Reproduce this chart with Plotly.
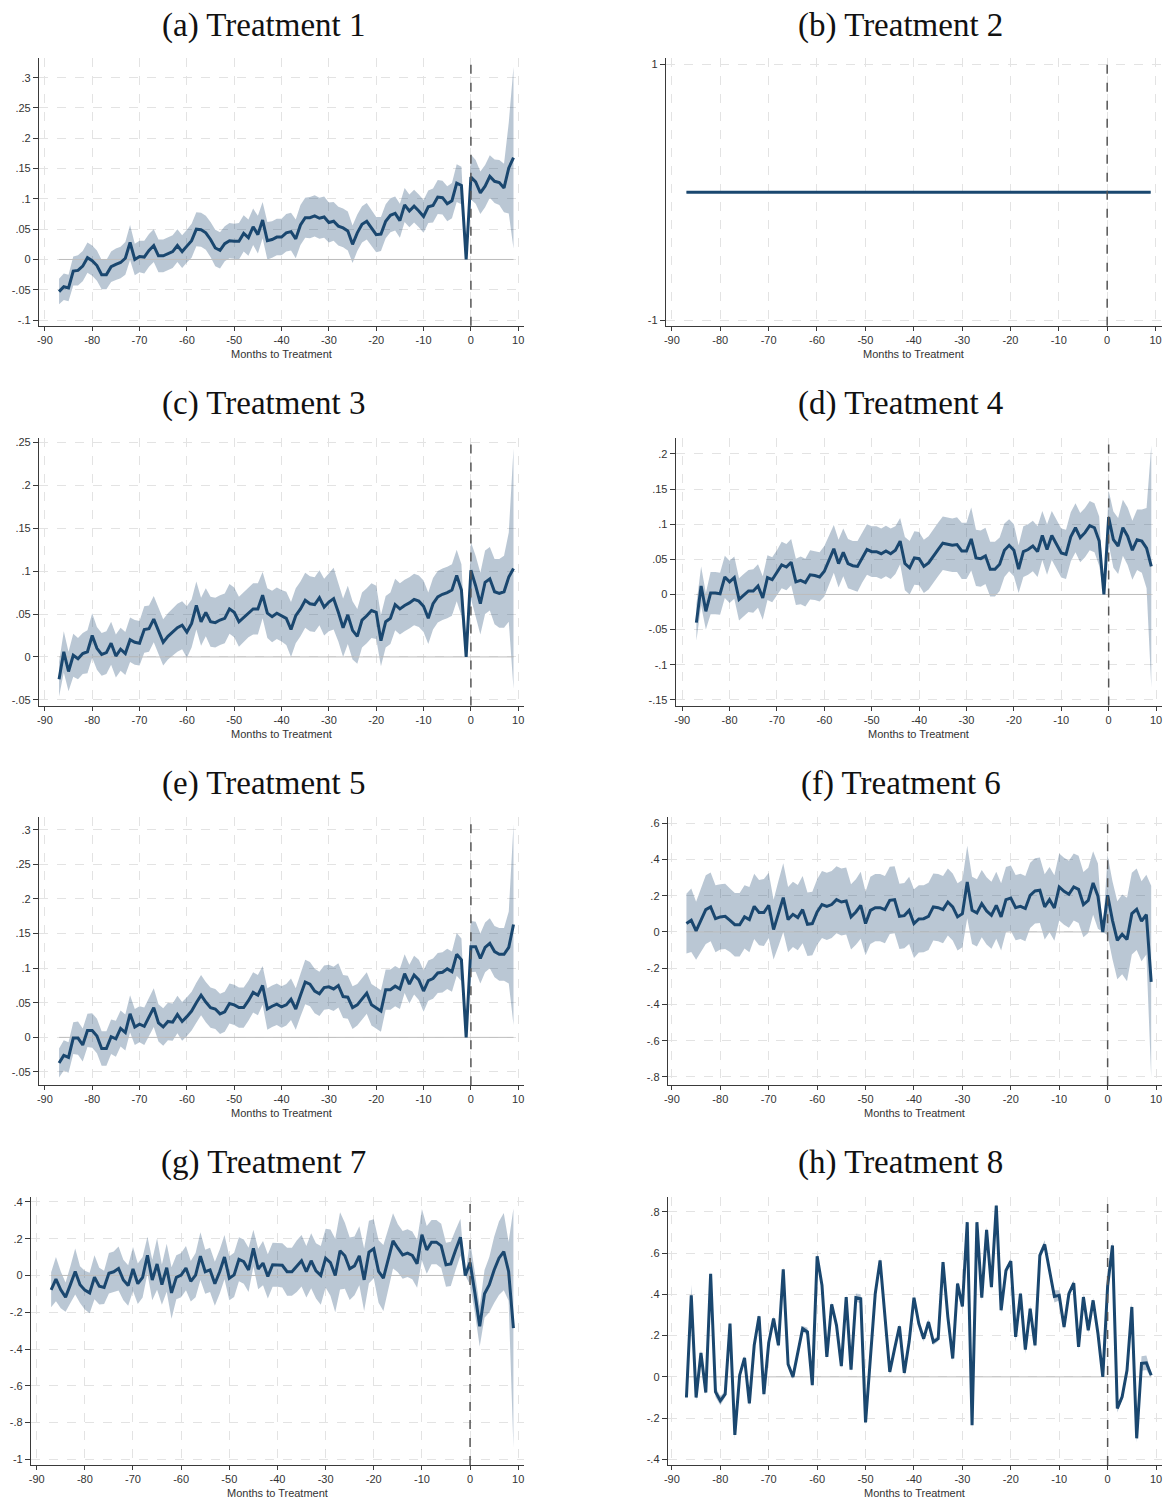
import plotly.graph_objects as go

W, H = 1169, 1500

MONTHS = list(range(-87, 10))
X_TICKS = [-90, -80, -70, -60, -50, -40, -30, -20, -10, 0, 10]
X_LABELS = ["-90", "-80", "-70", "-60", "-50", "-40", "-30", "-20", "-10", "0", "10"]

TITLES = ["(a) Treatment 1", "(b) Treatment 2", "(c) Treatment 3", "(d) Treatment 4",
          "(e) Treatment 5", "(f) Treatment 6", "(g) Treatment 7", "(h) Treatment 8"]
X_TITLE = "Months to Treatment"

# ---- Treatment 1 ----
A_COEF = [-0.053, -0.045, -0.047, -0.019, -0.018, -0.011, 0.003, -0.002, -0.010, -0.025,
          -0.025, -0.012, -0.008, -0.005, 0.002, 0.028, 0.000, 0.005, 0.004, 0.015,
          0.023, 0.006, 0.006, 0.009, 0.013, 0.023, 0.013, 0.022, 0.031, 0.050,
          0.049, 0.044, 0.033, 0.019, 0.015, 0.026, 0.031, 0.030, 0.030, 0.043,
          0.036, 0.054, 0.041, 0.065, 0.031, 0.033, 0.037, 0.037, 0.044, 0.046,
          0.034, 0.057, 0.069, 0.069, 0.072, 0.068, 0.070, 0.061, 0.063, 0.055,
          0.052, 0.047, 0.025, 0.044, 0.058, 0.063, 0.052, 0.041, 0.042, 0.063,
          0.073, 0.076, 0.064, 0.090, 0.080, 0.088, 0.080, 0.071, 0.087, 0.089,
          0.103, 0.102, 0.092, 0.097, 0.126, 0.122, 0.000, 0.136, 0.128, 0.110,
          0.121, 0.137, 0.129, 0.127, 0.118, 0.151, 0.168]
A_CI = [0.021, 0.022, 0.022, 0.024, 0.025, 0.025, 0.025, 0.025, 0.025, 0.024,
        0.024, 0.025, 0.026, 0.026, 0.027, 0.029, 0.026, 0.026, 0.027, 0.027,
        0.027, 0.027, 0.027, 0.027, 0.027, 0.027, 0.027, 0.027, 0.028, 0.028,
        0.028, 0.028, 0.029, 0.030, 0.030, 0.029, 0.029, 0.029, 0.030, 0.030,
        0.030, 0.030, 0.031, 0.030, 0.031, 0.030, 0.030, 0.030, 0.031, 0.031,
        0.032, 0.033, 0.033, 0.034, 0.034, 0.034, 0.034, 0.033, 0.032, 0.032,
        0.032, 0.032, 0.031, 0.030, 0.030, 0.030, 0.029, 0.029, 0.028, 0.028,
        0.028, 0.028, 0.028, 0.028, 0.027, 0.027, 0.027, 0.027, 0.027, 0.028,
        0.028, 0.028, 0.029, 0.029, 0.031, 0.031, 0.000, 0.037, 0.036, 0.035,
        0.035, 0.035, 0.036, 0.037, 0.040, 0.075, 0.150]

# ---- Treatment 2 ----
B_COEF = [0.0] * 97
B_CI = [0.0] * 97

# ---- Treatment 3 ----
C_COEF = [-0.026, 0.006, -0.017, 0.002, -0.002, 0.004, 0.006, 0.025, 0.010, 0.003,
          0.005, 0.016, 0.001, 0.009, 0.004, 0.020, 0.017, 0.016, 0.032, 0.033,
          0.044, 0.030, 0.017, 0.024, 0.029, 0.034, 0.037, 0.029, 0.039, 0.060,
          0.041, 0.052, 0.041, 0.040, 0.043, 0.045, 0.056, 0.052, 0.041, 0.046,
          0.052, 0.056, 0.056, 0.072, 0.051, 0.047, 0.051, 0.048, 0.045, 0.032,
          0.048, 0.056, 0.066, 0.062, 0.061, 0.069, 0.058, 0.064, 0.068, 0.052,
          0.034, 0.049, 0.031, 0.024, 0.043, 0.048, 0.054, 0.052, 0.019, 0.041,
          0.045, 0.061, 0.056, 0.060, 0.063, 0.067, 0.065, 0.059, 0.045, 0.062,
          0.070, 0.073, 0.075, 0.078, 0.095, 0.078, 0.000, 0.101, 0.083, 0.062,
          0.087, 0.091, 0.076, 0.074, 0.076, 0.093, 0.103]
C_CI = [0.020, 0.024, 0.023, 0.025, 0.024, 0.024, 0.025, 0.026, 0.025, 0.025,
        0.025, 0.025, 0.025, 0.025, 0.025, 0.026, 0.026, 0.026, 0.027, 0.027,
        0.027, 0.027, 0.027, 0.027, 0.027, 0.028, 0.028, 0.030, 0.028, 0.028,
        0.028, 0.028, 0.029, 0.029, 0.029, 0.029, 0.029, 0.029, 0.029, 0.029,
        0.029, 0.030, 0.030, 0.027, 0.029, 0.030, 0.030, 0.030, 0.031, 0.032,
        0.032, 0.032, 0.032, 0.032, 0.032, 0.032, 0.033, 0.034, 0.036, 0.034,
        0.034, 0.034, 0.034, 0.032, 0.032, 0.032, 0.032, 0.031, 0.030, 0.030,
        0.030, 0.030, 0.030, 0.030, 0.030, 0.030, 0.030, 0.030, 0.030, 0.030,
        0.030, 0.030, 0.030, 0.030, 0.030, 0.030, 0.000, 0.033, 0.035, 0.036,
        0.037, 0.037, 0.038, 0.040, 0.042, 0.052, 0.140]

# ---- Treatment 4 ----
D_COEF = [-0.040, 0.012, -0.024, 0.002, 0.002, 0.001, 0.025, 0.018, 0.024, -0.007,
          -0.001, 0.005, 0.005, 0.012, -0.005, 0.024, 0.021, 0.031, 0.042, 0.039,
          0.046, 0.018, 0.020, 0.017, 0.028, 0.027, 0.025, 0.033, 0.050, 0.065,
          0.044, 0.060, 0.044, 0.041, 0.040, 0.053, 0.064, 0.061, 0.061, 0.058,
          0.062, 0.058, 0.063, 0.076, 0.044, 0.038, 0.052, 0.051, 0.040, 0.045,
          0.055, 0.064, 0.073, 0.071, 0.070, 0.071, 0.062, 0.062, 0.079, 0.052,
          0.051, 0.055, 0.036, 0.036, 0.043, 0.063, 0.070, 0.063, 0.036, 0.061,
          0.064, 0.069, 0.061, 0.084, 0.064, 0.084, 0.072, 0.059, 0.057, 0.082,
          0.095, 0.081, 0.088, 0.098, 0.095, 0.076, 0.000, 0.110, 0.078, 0.069,
          0.095, 0.083, 0.063, 0.078, 0.076, 0.066, 0.040]
D_CI = [0.026, 0.028, 0.026, 0.030, 0.030, 0.030, 0.030, 0.030, 0.030, 0.030,
        0.030, 0.030, 0.031, 0.031, 0.031, 0.032, 0.032, 0.032, 0.033, 0.033,
        0.033, 0.033, 0.034, 0.034, 0.035, 0.035, 0.035, 0.036, 0.035, 0.034,
        0.034, 0.034, 0.035, 0.035, 0.036, 0.036, 0.036, 0.036, 0.036, 0.036,
        0.036, 0.036, 0.034, 0.033, 0.038, 0.038, 0.038, 0.038, 0.038, 0.038,
        0.038, 0.038, 0.038, 0.038, 0.038, 0.039, 0.040, 0.040, 0.045, 0.040,
        0.040, 0.040, 0.039, 0.039, 0.038, 0.038, 0.037, 0.037, 0.034, 0.036,
        0.036, 0.036, 0.036, 0.035, 0.036, 0.035, 0.035, 0.035, 0.035, 0.035,
        0.035, 0.035, 0.035, 0.035, 0.035, 0.035, 0.000, 0.038, 0.040, 0.040,
        0.040, 0.041, 0.042, 0.043, 0.045, 0.057, 0.172]

# ---- Treatment 5 ----
E_COEF = [-0.037, -0.026, -0.029, -0.001, -0.001, -0.011, 0.010, 0.010, 0.002, -0.016,
          -0.016, 0.001, -0.002, 0.013, 0.007, 0.034, 0.015, 0.019, 0.016, 0.029,
          0.043, 0.021, 0.015, 0.023, 0.022, 0.033, 0.023, 0.030, 0.038, 0.050,
          0.061, 0.051, 0.043, 0.041, 0.034, 0.037, 0.049, 0.047, 0.043, 0.043,
          0.053, 0.065, 0.061, 0.075, 0.041, 0.045, 0.048, 0.044, 0.047, 0.055,
          0.041, 0.061, 0.080, 0.077, 0.067, 0.063, 0.072, 0.073, 0.070, 0.075,
          0.059, 0.058, 0.043, 0.047, 0.056, 0.064, 0.047, 0.043, 0.038, 0.069,
          0.069, 0.074, 0.070, 0.092, 0.077, 0.090, 0.083, 0.067, 0.082, 0.085,
          0.093, 0.094, 0.099, 0.095, 0.120, 0.112, 0.000, 0.131, 0.131, 0.114,
          0.130, 0.136, 0.124, 0.120, 0.120, 0.130, 0.163]
E_CI = [0.021, 0.022, 0.022, 0.023, 0.024, 0.024, 0.024, 0.025, 0.025, 0.025,
        0.025, 0.025, 0.026, 0.026, 0.026, 0.027, 0.026, 0.026, 0.027, 0.027,
        0.028, 0.027, 0.027, 0.027, 0.027, 0.027, 0.028, 0.028, 0.028, 0.029,
        0.029, 0.029, 0.029, 0.029, 0.029, 0.029, 0.029, 0.029, 0.029, 0.029,
        0.029, 0.029, 0.029, 0.028, 0.030, 0.030, 0.030, 0.030, 0.030, 0.030,
        0.030, 0.031, 0.032, 0.032, 0.032, 0.032, 0.032, 0.032, 0.032, 0.032,
        0.031, 0.031, 0.031, 0.030, 0.030, 0.030, 0.030, 0.030, 0.030, 0.029,
        0.029, 0.029, 0.029, 0.028, 0.028, 0.028, 0.029, 0.030, 0.029, 0.029,
        0.029, 0.029, 0.029, 0.029, 0.031, 0.031, 0.000, 0.037, 0.036, 0.036,
        0.036, 0.036, 0.037, 0.038, 0.038, 0.052, 0.145]

# ---- Treatment 6 ----
F_COEF = [0.046, 0.064, 0.006, 0.064, 0.123, 0.138, 0.073, 0.083, 0.086, 0.064,
          0.040, 0.040, 0.083, 0.068, 0.141, 0.107, 0.107, 0.147, 0.013, 0.101,
          0.189, 0.068, 0.097, 0.079, 0.123, 0.042, 0.046, 0.110, 0.151, 0.141,
          0.151, 0.178, 0.165, 0.171, 0.083, 0.110, 0.147, 0.046, 0.119, 0.134,
          0.134, 0.123, 0.174, 0.178, 0.086, 0.090, 0.119, 0.046, 0.072, 0.073,
          0.086, 0.138, 0.134, 0.123, 0.165, 0.138, 0.083, 0.101, 0.275, 0.119,
          0.105, 0.156, 0.116, 0.092, 0.147, 0.083, 0.178, 0.187, 0.134, 0.141,
          0.129, 0.202, 0.226, 0.230, 0.138, 0.178, 0.132, 0.248, 0.224, 0.208,
          0.248, 0.235, 0.151, 0.174, 0.270, 0.197, 0.000, 0.202, 0.064, -0.046,
          -0.013, -0.042, 0.101, 0.125, 0.059, 0.096, -0.275]
F_CI = [0.165, 0.175, 0.160, 0.175, 0.190, 0.190, 0.185, 0.180, 0.180, 0.175,
        0.175, 0.175, 0.175, 0.180, 0.180, 0.180, 0.185, 0.180, 0.165, 0.180,
        0.190, 0.180, 0.180, 0.180, 0.185, 0.175, 0.175, 0.180, 0.185, 0.185,
        0.185, 0.185, 0.185, 0.185, 0.180, 0.180, 0.185, 0.175, 0.185, 0.185,
        0.185, 0.185, 0.185, 0.185, 0.180, 0.180, 0.185, 0.190, 0.185, 0.185,
        0.185, 0.185, 0.185, 0.185, 0.185, 0.185, 0.185, 0.185, 0.200, 0.185,
        0.185, 0.185, 0.185, 0.185, 0.185, 0.185, 0.180, 0.180, 0.180, 0.180,
        0.180, 0.180, 0.180, 0.180, 0.180, 0.180, 0.180, 0.185, 0.185, 0.185,
        0.185, 0.185, 0.180, 0.180, 0.175, 0.180, 0.000, 0.220, 0.215, 0.215,
        0.220, 0.230, 0.225, 0.225, 0.220, 0.220, 0.530]

# ---- Treatment 7 ----
G_COEF = [-0.078, -0.020, -0.078, -0.118, -0.050, 0.022, -0.050, -0.080, -0.095, -0.010,
          -0.058, -0.065, 0.012, 0.020, 0.038, -0.025, -0.055, 0.035, -0.045, -0.010,
          0.110, -0.025, 0.062, -0.050, 0.042, -0.095, -0.010, 0.002, 0.040, -0.032,
          0.002, 0.105, 0.020, 0.030, -0.045, 0.020, 0.100, -0.015, 0.003, 0.088,
          0.075, 0.030, 0.148, 0.035, 0.067, -0.005, 0.058, 0.058, 0.055, 0.020,
          0.020, 0.050, 0.080, 0.020, 0.080, 0.025, 0.000, 0.094, 0.070, 0.000,
          0.134, 0.107, 0.036, 0.052, 0.107, -0.024, 0.127, 0.145, 0.022, -0.014,
          0.090, 0.188, 0.148, 0.112, 0.121, 0.109, 0.063, 0.221, 0.139, 0.181,
          0.181, 0.161, 0.058, 0.063, 0.139, 0.208, 0.000, 0.070, -0.096, -0.277,
          -0.100, -0.050, 0.030, 0.094, 0.130, 0.022, -0.286]
G_CI = [0.095, 0.120, 0.100, 0.080, 0.100, 0.125, 0.100, 0.105, 0.110, 0.120,
        0.100, 0.090, 0.110, 0.110, 0.120, 0.110, 0.110, 0.120, 0.110, 0.110,
        0.100, 0.110, 0.140, 0.110, 0.130, 0.140, 0.120, 0.120, 0.120, 0.110,
        0.120, 0.130, 0.120, 0.120, 0.120, 0.120, 0.120, 0.120, 0.120, 0.120,
        0.120, 0.120, 0.100, 0.110, 0.120, 0.120, 0.120, 0.120, 0.120, 0.130,
        0.130, 0.140, 0.140, 0.140, 0.150, 0.150, 0.160, 0.160, 0.180, 0.200,
        0.210, 0.180, 0.170, 0.160, 0.160, 0.170, 0.170, 0.160, 0.170, 0.180,
        0.160, 0.150, 0.130, 0.130, 0.130, 0.130, 0.130, 0.140, 0.130, 0.120,
        0.120, 0.120, 0.120, 0.120, 0.110, 0.100, 0.000, 0.120, 0.110, 0.110,
        0.130, 0.150, 0.180, 0.200, 0.210, 0.160, 0.650]

# ---- Treatment 8 ----
H_COEF = [-0.100, 0.395, -0.100, 0.116, -0.076, 0.500, -0.073, -0.116, -0.084, 0.258,
          -0.282, 0.008, 0.092, -0.129, 0.153, 0.294, -0.084, 0.165, 0.283, 0.153,
          0.521, 0.061, 0.000, 0.121, 0.234, 0.218, -0.040, 0.585, 0.444, 0.097,
          0.352, 0.250, 0.052, 0.387, 0.035, 0.384, 0.379, -0.221, 0.097, 0.403,
          0.565, 0.274, 0.024, 0.137, 0.245, 0.019, 0.170, 0.384, 0.258, 0.185,
          0.266, 0.170, 0.185, 0.556, 0.290, 0.089, 0.452, 0.342, 0.750, -0.234,
          0.750, 0.384, 0.713, 0.435, 0.831, 0.323, 0.516, 0.561, 0.194, 0.403,
          0.132, 0.331, 0.153, 0.589, 0.642, 0.516, 0.390, 0.395, 0.242, 0.403,
          0.455, 0.145, 0.387, 0.226, 0.371, 0.210, 0.000, 0.440, 0.637, -0.153,
          -0.097, 0.032, 0.339, -0.298, 0.065, 0.068, 0.008]
H_CI = [0.012, 0.050, 0.015, 0.015, 0.012, 0.012, 0.025, 0.022, 0.015, 0.012,
        0.020, 0.012, 0.012, 0.015, 0.012, 0.012, 0.012, 0.012, 0.012, 0.015,
        0.015, 0.012, 0.012, 0.012, 0.012, 0.020, 0.012, 0.015, 0.012, 0.012,
        0.012, 0.012, 0.012, 0.012, 0.012, 0.020, 0.022, 0.015, 0.012, 0.012,
        0.015, 0.012, 0.012, 0.012, 0.012, 0.012, 0.012, 0.012, 0.012, 0.015,
        0.015, 0.015, 0.012, 0.012, 0.012, 0.012, 0.012, 0.012, 0.012, 0.025,
        0.012, 0.015, 0.015, 0.012, 0.012, 0.015, 0.015, 0.012, 0.025, 0.012,
        0.020, 0.015, 0.015, 0.020, 0.020, 0.015, 0.030, 0.025, 0.015, 0.015,
        0.015, 0.015, 0.015, 0.015, 0.012, 0.012, 0.000, 0.025, 0.020, 0.020,
        0.015, 0.015, 0.020, 0.020, 0.035, 0.035, 0.012]

# y tick values / labels per panel
Y_TICKS = [
    [-0.1, -0.05, 0, 0.05, 0.1, 0.15, 0.2, 0.25, 0.3],
    [-1, 1],
    [-0.05, 0, 0.05, 0.1, 0.15, 0.2, 0.25],
    [-0.15, -0.1, -0.05, 0, 0.05, 0.1, 0.15, 0.2],
    [-0.05, 0, 0.05, 0.1, 0.15, 0.2, 0.25, 0.3],
    [-0.8, -0.6, -0.4, -0.2, 0, 0.2, 0.4, 0.6],
    [-1, -0.8, -0.6, -0.4, -0.2, 0, 0.2, 0.4],
    [-0.4, -0.2, 0, 0.2, 0.4, 0.6, 0.8],
]
Y_LABELS = [
    ["-.1", "-.05", "0", ".05", ".1", ".15", ".2", ".25", ".3"],
    ["-1", "1"],
    ["-.05", "0", ".05", ".1", ".15", ".2", ".25"],
    ["-.15", "-.1", "-.05", "0", ".05", ".1", ".15", ".2"],
    ["-.05", "0", ".05", ".1", ".15", ".2", ".25", ".3"],
    ["-.8", "-.6", "-.4", "-.2", "0", ".2", ".4", ".6"],
    ["-1", "-.8", "-.6", "-.4", "-.2", "0", ".2", ".4"],
    ["-.4", "-.2", "0", ".2", ".4", ".6", ".8"],
]

COEFS = [A_COEF, B_COEF, C_COEF, D_COEF, E_COEF, F_COEF, G_COEF, H_COEF]
CIS = [A_CI, B_CI, C_CI, D_CI, E_CI, F_CI, G_CI, H_CI]

# ---- pixel geometry of each panel (layout only) ----
GEOM = [
    dict(left=35, right=522, xm90=41, x10=516, top=57, bottom=325, yt=(0.3, 76.7), yb=(-0.1, 319.3)),
    dict(left=664, right=1162, xm90=670.2, x10=1155.5, top=57, bottom=325, yt=(1, 63.3), yb=(-1, 319.3)),
    dict(left=35, right=522, xm90=41, x10=516, top=437, bottom=705, yt=(0.25, 441.7), yb=(-0.05, 699.3)),
    dict(left=674, right=1162, xm90=680.5, x10=1156, top=437, bottom=705, yt=(0.2, 453.3), yb=(-0.15, 699.3)),
    dict(left=35, right=522, xm90=41, x10=516, top=817, bottom=1085, yt=(0.3, 829.3), yb=(-0.05, 1071.7)),
    dict(left=666, right=1162, xm90=670.2, x10=1156, top=817, bottom=1085, yt=(0.6, 822.7), yb=(-0.8, 1076.7)),
    dict(left=27, right=522, xm90=32.8, x10=516, top=1197, bottom=1465, yt=(0.4, 1201.7), yb=(-1, 1459.3)),
    dict(left=666, right=1162, xm90=670.2, x10=1156, top=1197, bottom=1465, yt=(0.8, 1211.7), yb=(-0.4, 1459.3)),
]
TITLE_POS = [(260, 25), (900, 25), (260, 403), (900, 403),
             (260, 783), (900, 783), (260, 1162), (900, 1162)]

NAVY = "#1a476f"
BAND = "rgba(26,71,111,0.30)"
AXIS_COL = "#3a3a3a"
GRID_COL = "#e3e3e3"
TICK_FONT = dict(family="Liberation Sans, Arial, sans-serif", size=11, color="#333333")

fig = go.Figure()
layout = dict(width=W, height=H, margin=dict(l=0, r=0, t=0, b=0),
              paper_bgcolor="white", plot_bgcolor="white", showlegend=False)
annotations = []
shapes = []

for i in range(8):
    coef = COEFS[i]
    ci = CIS[i]
    assert len(coef) == len(MONTHS) and len(ci) == len(MONTHS), i
    g = GEOM[i]
    n = "" if i == 0 else str(i + 1)
    xa, ya = "x" + n, "y" + n

    upper = [c + h for c, h in zip(coef, ci)]
    lower = [c - h for c, h in zip(coef, ci)]

    fig.add_trace(go.Scatter(x=MONTHS, y=upper, mode="lines", line=dict(width=0, color=BAND),
                             xaxis=xa, yaxis=ya, hoverinfo="skip"))
    fig.add_trace(go.Scatter(x=MONTHS, y=lower, mode="lines", line=dict(width=0, color=BAND),
                             fill="tonexty", fillcolor=BAND, xaxis=xa, yaxis=ya, hoverinfo="skip"))
    fig.add_trace(go.Scatter(x=MONTHS, y=[0] * len(MONTHS), mode="lines",
                             line=dict(width=1, color="#bdbdbd"), xaxis=xa, yaxis=ya, hoverinfo="skip"))
    fig.add_trace(go.Scatter(x=MONTHS, y=coef, mode="lines", line=dict(width=3, color=NAVY),
                             xaxis=xa, yaxis=ya))

    # axis ranges from pixel geometry
    ppu = (g["x10"] - g["xm90"]) / 100.0
    xr = [-90 + (g["left"] - g["xm90"]) / ppu, 10 + (g["right"] - g["x10"]) / ppu]
    (v1, p1), (v2, p2) = g["yt"], g["yb"]
    upp = (v1 - v2) / (p2 - p1)
    yr = [v2 - (g["bottom"] - p2) * upp, v1 + (p1 - g["top"]) * upp]

    layout["xaxis" + n] = dict(
        domain=[g["left"] / W, g["right"] / W], range=xr, anchor=ya,
        tickvals=X_TICKS, ticktext=X_LABELS, tickfont=TICK_FONT,
        showline=True, linecolor=AXIS_COL, linewidth=1, mirror=False,
        ticks="outside", ticklen=4, tickcolor=AXIS_COL, tickwidth=1,
        showgrid=True, gridcolor=GRID_COL, gridwidth=1, griddash="dash",
        zeroline=False, fixedrange=True)
    layout["yaxis" + n] = dict(
        domain=[1 - g["bottom"] / H, 1 - g["top"] / H], range=yr, anchor=xa,
        tickvals=Y_TICKS[i], ticktext=Y_LABELS[i], tickfont=TICK_FONT,
        showline=True, linecolor=AXIS_COL, linewidth=1, mirror=False,
        ticks="outside", ticklen=5, tickcolor=AXIS_COL, tickwidth=1,
        showgrid=True, gridcolor=GRID_COL, gridwidth=1, griddash="dash",
        zeroline=False, fixedrange=True)

    shapes.append(dict(type="line", xref=xa, yref=ya + " domain", x0=0, x1=0, y0=0, y1=1,
                       line=dict(color="#555555", width=1.5, dash="dash")))

    tx, ty = TITLE_POS[i]
    annotations.append(dict(text=TITLES[i], xref="paper", yref="paper", x=tx / W, y=1 - ty / H,
                            xanchor="center", yanchor="middle", showarrow=False,
                            font=dict(family="Liberation Serif, Times New Roman, serif",
                                      size=33, color="#111111")))
    annotations.append(dict(text=X_TITLE, xref="paper", yref="paper",
                            x=(g["left"] + g["right"]) / 2 / W, y=1 - (g["bottom"] + 28) / H,
                            xanchor="center", yanchor="middle", showarrow=False,
                            font=dict(family="Liberation Sans, Arial, sans-serif", size=11,
                                      color="#333333")))

layout["annotations"] = annotations
layout["shapes"] = shapes
fig.update_layout(**layout)
fig.write_html("out.html")
